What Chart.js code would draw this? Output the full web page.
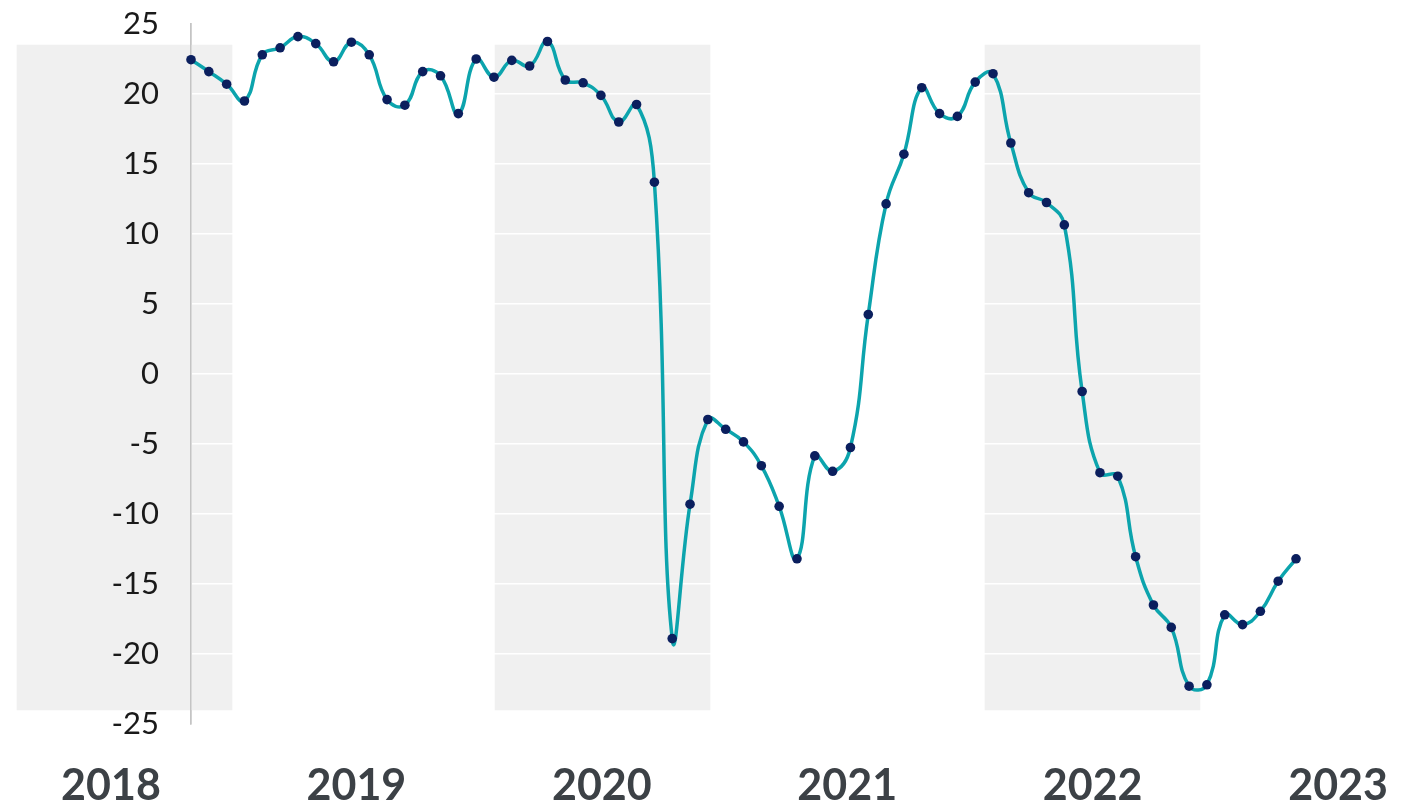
<!DOCTYPE html>
<html>
<head>
<meta charset="utf-8">
<script src="https://cdn.jsdelivr.net/npm/chart.js@4.4.1/dist/chart.umd.min.js"></script>
<style>
  html, body { margin: 0; padding: 0; background: #fff; overflow: hidden; }
  .chart-wrap { width: 1414px; height: 808px; }
</style>
</head>
<body>
<div class="chart-wrap"><canvas class="line-chart"></canvas></div>
<script>
// monthly values, one point per month
const values = [
  22.45, 21.6, 20.7, 19.5, 22.8, 23.3, 24.1, 23.6, 22.3, 23.7, 22.8, 19.6, 19.2,
  21.6, 21.3, 18.6, 22.5, 21.2, 22.4, 22.0, 23.75, 21.0, 20.8, 19.9, 18.0, 19.25,
  13.7, -18.9, -9.3, -3.25, -3.95, -4.85, -6.55, -9.45, -13.2, -5.85, -6.95, -5.25,
  4.25, 12.15, 15.7, 20.45, 18.6, 18.4, 20.85, 21.45, 16.5, 12.95, 12.25, 10.65,
  -1.25, -7.05, -7.3, -13.05, -16.5, -18.1, -22.3, -22.2, -17.2, -17.9, -16.95,
  -14.8, -13.2,
];

const yearLabels = [2018, 2019, 2020, 2021, 2022, 2023];

// shaded bands: centre (month index) and value range
const bandCenters = [-3.73, 23.09, 50.58];
const bandLow = -24;
const bandHigh = 23.5;

const yTicks = [-25, -20, -15, -10, -5, 0, 5, 10, 15, 20, 25];

const linePoints = values.map((v, i) => ({ x: i, y: v }));
const bandBars = bandCenters.map((c) => ({ x: c, y: [bandLow, bandHigh] }));

// white grid and the axis line go on top of the grey bands, under the line
const gridOverBands = {
  id: 'gridOverBands',
  afterDatasetDraw(chart, args) {
    if (args.index !== 1) return;
    const { ctx, chartArea } = chart;
    ctx.save();
    ctx.beginPath();
    ctx.rect(chartArea.left + 1, chartArea.top - 2, chartArea.width, chartArea.height + 4);
    ctx.clip();
    chart.scales.y.drawGrid(chartArea);
    ctx.restore();
    chart.scales.y.drawBorder();
  },
};

Chart.defaults.font.family = 'Lato';

const lineChart = document.querySelector('.line-chart');

new Chart(lineChart, {
  type: 'line',
  data: {
    datasets: [
      {
        type: 'line',
        data: linePoints,
        borderColor: '#0ca4ad',
        borderWidth: 3.5,
        tension: 0.45,
        pointRadius: 4.8,
        pointBorderWidth: 0,
        pointBackgroundColor: '#0b1f5e',
        clip: false,
        xAxisID: 'x',
        yAxisID: 'y',
      },
      {
        type: 'bar',
        data: bandBars,
        backgroundColor: '#f0f0f0',
        borderWidth: 0,
        barThickness: 215,
        grouped: false,
        clip: false,
        xAxisID: 'x',
        yAxisID: 'y',
      },
    ],
  },
  options: {
    responsive: true,
    maintainAspectRatio: false,
    animation: false,
    layout: { padding: { top: 24, left: 0, right: 18, bottom: -40 } },
    plugins: {
      legend: { display: false },
      tooltip: { enabled: false },
    },
    scales: {
      x: {
        type: 'linear',
        position: 'bottom',
        offset: false,
        min: 0,
        max: 67.61,
        grid: { display: false, drawTicks: false, offset: false },
        border: { display: false },
        ticks: { display: false },
      },
      xYear: {
        type: 'linear',
        position: 'bottom',
        offset: false,
        min: 2018.326,
        max: 2023.236,
        grid: { display: false, drawTicks: false },
        border: { display: false },
        afterBuildTicks: (scale) => {
          scale.ticks = yearLabels.map((v) => ({ value: v }));
        },
        ticks: {
          autoSkip: false,
          maxRotation: 0,
          padding: 0,
          color: '#3c4146',
          font: { size: 43, weight: 'bold', lineHeight: 2.884 },
          callback: (v) => String(v),
        },
      },
      y: {
        type: 'linear',
        position: 'left',
        min: -25,
        max: 25,
        afterBuildTicks: (scale) => {
          scale.ticks = yTicks.map((v) => ({ value: v }));
        },
        afterFit: (scale) => {
          scale.width = 191;
        },
        grid: {
          color: '#ffffff',
          lineWidth: 1.5,
          drawTicks: true,
          tickLength: 32,
          tickColor: 'rgba(0,0,0,0)',
        },
        border: { display: true, color: '#c4c4c4', width: 1.5 },
        ticks: {
          z: 1,
          autoSkip: false,
          padding: 0,
          color: '#1a1a1a',
          font: { size: 31 },
        },
      },
    },
  },
  plugins: [gridOverBands],
});
</script>
</body>
</html>
